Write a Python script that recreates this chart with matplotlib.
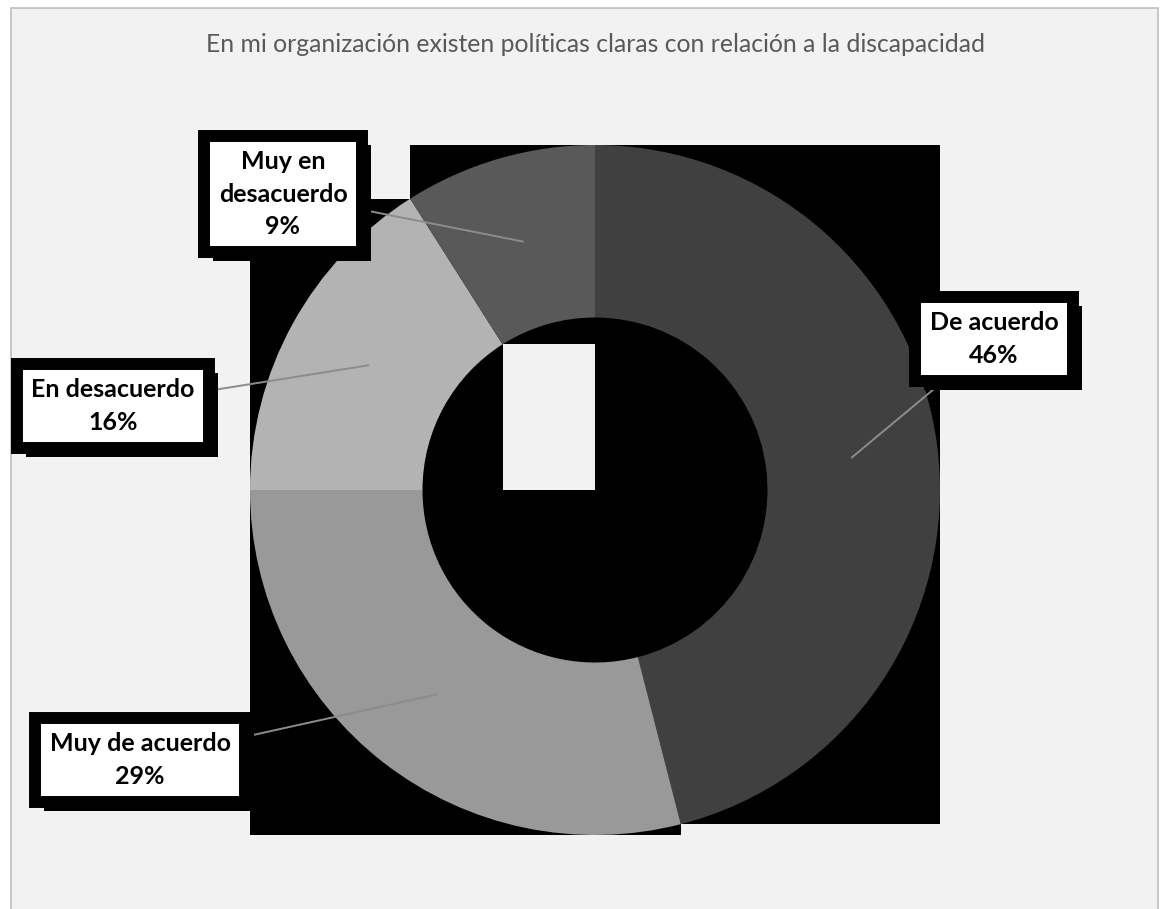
import matplotlib
matplotlib.use("Agg")
import matplotlib.pyplot as plt
import matplotlib.patheffects as pe
from matplotlib.patches import Rectangle
import numpy as np

# Survey answers, clockwise from 12 o'clock
categories = ["De acuerdo", "Muy de acuerdo", "En desacuerdo", "Muy en desacuerdo"]
percentages = [46, 29, 16, 9]
label_texts = ["De acuerdo\n46%", "Muy de acuerdo\n29%", "En desacuerdo\n16%", "Muy en\ndesacuerdo\n9%"]
colors = ["#404040", "#999999", "#b3b3b3", "#595959"]
title = "En mi organización existen políticas claras con relación a la discapacidad"

W, H = 1160, 909
plt.rcParams["font.family"] = ["Lato", "DejaVu Sans"]

fig = plt.figure(figsize=(W / 100, H / 100), dpi=100, facecolor="white")
ax = fig.add_axes([0, 0, 1, 1])

# chart area with its thin border
ax.add_patch(Rectangle((11, -10), 1147, H - 8 + 10, fc="#f2f2f2", ec="#bfbfbf", lw=1.2, zorder=0))

center = (595, H - 490)
radius = 345
wedges, _ = ax.pie(
    percentages,
    colors=colors,
    startangle=90,
    counterclock=False,
    center=center,
    radius=radius,
    frame=True,
    wedgeprops=dict(width=radius * 0.5, linewidth=0, zorder=2),
)

# each slice sits on a black box the size of its own extent
for w in wedges:
    ext = w.get_path().get_extents()
    ax.add_patch(Rectangle((ext.x0, ext.y0), ext.width, ext.height, fc="black", ec="none", zorder=1))

# label box centres (pixel layout, y measured from the bottom)
label_pos = [(994, H - 339), (140, H - 760), (113, H - 406), (283, H - 194)]

for w, txt, pos in zip(wedges, label_texts, label_pos):
    mid = np.deg2rad((w.theta1 + w.theta2) / 2)
    tip = (center[0] + 0.75 * radius * np.cos(mid), center[1] + 0.75 * radius * np.sin(mid))
    ax.annotate("", xy=tip, xytext=pos, arrowprops=dict(arrowstyle="-", color="#8c8c8c", lw=1.4,
                                                        shrinkA=0, shrinkB=0), zorder=2.5)
    t = ax.text(pos[0], pos[1], txt, ha="center", va="center", fontsize=18, fontweight="bold",
                color="black", linespacing=1.48,
                bbox=dict(boxstyle="square,pad=0.58", lw=8.6, fc="white", ec="black"), zorder=4)
    # hard black drop shadow behind the box
    t.get_bbox_patch().set_path_effects([
        pe.SimplePatchShadow(offset=(6.5, -6.5), shadow_rgbFace="black", alpha=1.0),
        pe.Normal(),
    ])

ax.text(W / 2 + 15, H - 44, title, ha="center", va="center", fontsize=17.8, color="#595959")

ax.set_xlim(0, W)
ax.set_ylim(0, H)
ax.set_aspect("equal")
ax.axis("off")

fig.savefig("out.png", dpi=100, facecolor="white")
